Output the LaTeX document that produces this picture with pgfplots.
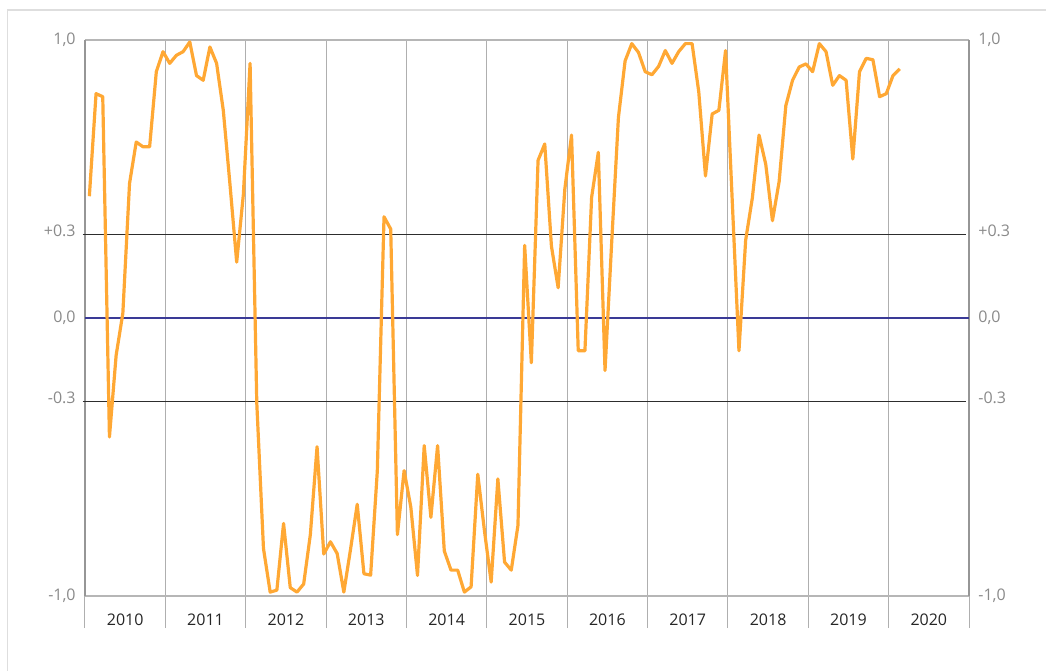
\documentclass[border=0pt]{standalone}
\usepackage{pgfplots}
\usepackage{pgfplotstable}
\pgfplotsset{compat=1.18}
\usepackage{fontspec}
\setmainfont{Open Sans}
\definecolor{orangeline}{RGB}{255,168,52}
\definecolor{zeroline}{RGB}{58,58,150}
\definecolor{refline}{RGB}{45,45,45}
\definecolor{ticklab}{RGB}{138,138,138}
\definecolor{gridc}{RGB}{175,175,175}
\definecolor{framec}{RGB}{150,150,150}
\definecolor{outerc}{RGB}{222,222,222}
\pgfplotstableread{
x y
0.5 0.438
1.5 0.807
2.5 0.796
3.5 -0.428
4.5 -0.134
5.5 0.017
6.5 0.484
7.5 0.633
8.5 0.616
9.5 0.616
10.5 0.886
11.5 0.958
12.5 0.916
13.5 0.945
14.5 0.958
15.5 0.993
16.5 0.872
17.5 0.855
18.5 0.975
19.5 0.916
20.5 0.747
21.5 0.48
22.5 0.201
23.5 0.445
24.5 0.916
25.5 -0.305
26.5 -0.829
27.5 -0.986
28.5 -0.979
29.5 -0.739
30.5 -0.970
31.5 -0.986
32.5 -0.957
33.5 -0.779
34.5 -0.463
35.5 -0.849
36.5 -0.805
37.5 -0.847
38.5 -0.986
39.5 -0.832
40.5 -0.670
41.5 -0.920
42.5 -0.925
43.5 -0.55
44.5 0.364
45.5 0.320
46.5 -0.779
47.5 -0.549
48.5 -0.680
49.5 -0.926
50.5 -0.459
51.5 -0.717
52.5 -0.459
53.5 -0.838
54.5 -0.907
55.5 -0.907
56.5 -0.986
57.5 -0.967
58.5 -0.562
59.5 -0.766
60.5 -0.950
61.5 -0.579
62.5 -0.878
63.5 -0.907
64.5 -0.746
65.5 0.261
66.5 -0.161
67.5 0.567
68.5 0.626
69.5 0.258
70.5 0.109
71.5 0.464
72.5 0.658
73.5 -0.118
74.5 -0.118
75.5 0.434
76.5 0.596
77.5 -0.189
78.5 0.274
79.5 0.721
80.5 0.925
81.5 0.987
82.5 0.955
83.5 0.886
84.5 0.875
85.5 0.905
86.5 0.962
87.5 0.916
88.5 0.958
89.5 0.987
90.5 0.987
91.5 0.813
92.5 0.511
93.5 0.734
94.5 0.747
95.5 0.962
96.5 0.42
97.5 -0.118
98.5 0.280
99.5 0.432
100.5 0.658
101.5 0.553
102.5 0.350
103.5 0.491
104.5 0.764
105.5 0.855
106.5 0.903
107.5 0.914
108.5 0.886
109.5 0.987
110.5 0.958
111.5 0.837
112.5 0.872
113.5 0.855
114.5 0.572
115.5 0.886
116.5 0.934
117.5 0.929
118.5 0.796
119.5 0.807
120.5 0.872
121.5 0.896
}\datatable
\begin{document}
\begin{tikzpicture}[x=1pt,y=1pt]
\useasboundingbox (0,0) rectangle (784.5,503.25);
\draw[outerc, line width=1.2pt] (5.5,-2) -- (5.5,495.75) -- (790,495.75);
\begin{axis}[
  at={(63.75pt,56.25pt)}, anchor=south west,
  scale only axis, width=663pt, height=417pt,
  xmin=0, xmax=132, ymin=-1, ymax=1,
  clip=false,
  axis line style={draw=none},
  xtick={6,18,...,126},
  xticklabels={2010,2011,2012,2013,2014,2015,2016,2017,2018,2019,2020},
  minor xtick={0,12,...,132},
  xminorgrids=true,
  minor grid style={gridc, line width=0.75pt},
  major tick length=0pt,
  minor tick length=24pt,
  tick align=outside,
  xtick pos=bottom,
  minor tick style={gridc, line width=0.75pt},
  xticklabel style={font=\fontsize{12}{14}\selectfont, text=black!85, yshift=-10pt},
  ytick={-1,-0.3,0,0.3,1},
  yticklabels={{-1,0},{\raisebox{3pt}[8.6pt][0pt]{-0.3}},{0,0},{\raisebox{3pt}[8.6pt][0pt]{+0.3}},{1,0}},
  ytick pos=left,
  ytick style={draw=none},
  yticklabel style={font=\fontsize{12}{14}\selectfont, text=ticklab, xshift=-3.5pt},
]
\draw[framec!70, line width=0.9pt] (axis cs:0,1) -- (axis cs:132,1);
\draw[framec!70, line width=0.9pt] (axis cs:0,-1) -- (axis cs:132,-1);
\draw[framec, line width=0.9pt] (axis cs:0,1) -- (axis cs:0,-1);
\draw[framec, line width=0.9pt] (axis cs:132,1) -- (axis cs:132,-1);
\addplot[refline, line width=1.3pt] coordinates {(-0.35,0.3) (131.6,0.3)};
\addplot[refline, line width=1.3pt] coordinates {(-0.35,-0.3) (131.6,-0.3)};
\addplot[zeroline, line width=1.2pt] coordinates {(0,0) (132,0)};
\addplot[orangeline, line width=2.4pt, line join=round] table[x expr=\thisrow{x}+0.15,y=y] {\datatable};
\end{axis}
\begin{axis}[
  at={(63.75pt,56.25pt)}, anchor=south west,
  scale only axis, width=663pt, height=417pt,
  xmin=0, xmax=132, ymin=-1, ymax=1,
  axis line style={draw=none},
  hide x axis,
  ytick={-1,-0.3,0,0.3,1},
  yticklabels={{-1,0},{\raisebox{3pt}[8.6pt][0pt]{-0.3}},{0,0},{\raisebox{3pt}[8.6pt][0pt]{+0.3}},{1,0}},
  ytick pos=right,
  yticklabel pos=right,
  ytick style={draw=none},
  major tick length=0pt,
  yticklabel style={font=\fontsize{12}{14}\selectfont, text=ticklab, xshift=3.5pt},
]
\addplot[draw=none] coordinates {(0,0) (132,0)};
\end{axis}
\end{tikzpicture}
\end{document}
